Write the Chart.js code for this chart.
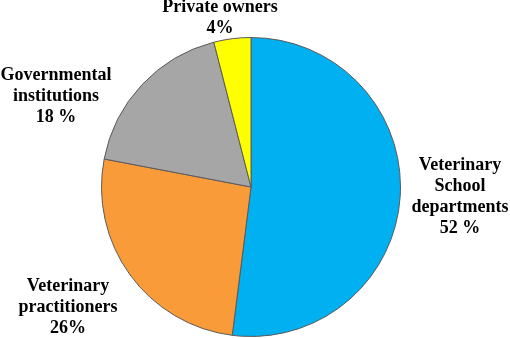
<!DOCTYPE html>
<html><head><meta charset="utf-8">
<script src="https://cdn.jsdelivr.net/npm/chart.js@4"></script>
<style>html,body{margin:0;padding:0;background:#fff;}canvas{display:block;}</style>
</head><body>
<canvas id="c" width="510" height="338"></canvas>
<script>
const categories = ["Veterinary School departments", "Veterinary practitioners", "Governmental institutions", "Private owners"];
const values = [52, 26, 18, 4];
const labelLines = [
  ["Veterinary", "School", "departments", "52 %"],
  ["Veterinary", "practitioners", "26%"],
  ["Governmental", "institutions", "18 %"],
  ["Private owners", "4%"]
];
const colors = ["#00B0F0", "#F99B38", "#A6A6A6", "#FFFF00"];

const labelPlugin = {
  id: 'outerLabels',
  afterDraw(chart, args, opts) {
    const ctx = chart.ctx;
    const meta = chart.getDatasetMeta(0);
    ctx.save();
    ctx.font = 'bold 18px "Liberation Serif", "Times New Roman", serif';
    ctx.fillStyle = '#000';
    ctx.textAlign = 'center';
    ctx.textBaseline = 'middle';
    meta.data.forEach((arc, i) => {
      const p = opts.anchors[i];
      const x = arc.x + p[0], y = arc.y + p[1];
      const lines = labelLines[i];
      const lh = 21;
      const y0 = y - (lines.length - 1) * lh / 2;
      lines.forEach((t, k) => ctx.fillText(t, x, y0 + k * lh));
    });
    ctx.restore();
  }
};

new Chart(document.getElementById('c'), {
  type: 'pie',
  data: {
    labels: categories,
    datasets: [{
      data: values,
      backgroundColor: colors,
      borderColor: '#5a5a5a',
      borderWidth: 1
    }]
  },
  options: {
    responsive: false,
    animation: false,
    layout: { padding: { left: 101, right: 109, top: 37, bottom: 1 } },
    plugins: {
      legend: { display: false },
      tooltip: { enabled: false },
      outerLabels: { anchors: [[209, 10], [-183, 120], [-195, -91], [-31, -169]] }
    }
  },
  plugins: [labelPlugin]
});
</script>
</body></html>
